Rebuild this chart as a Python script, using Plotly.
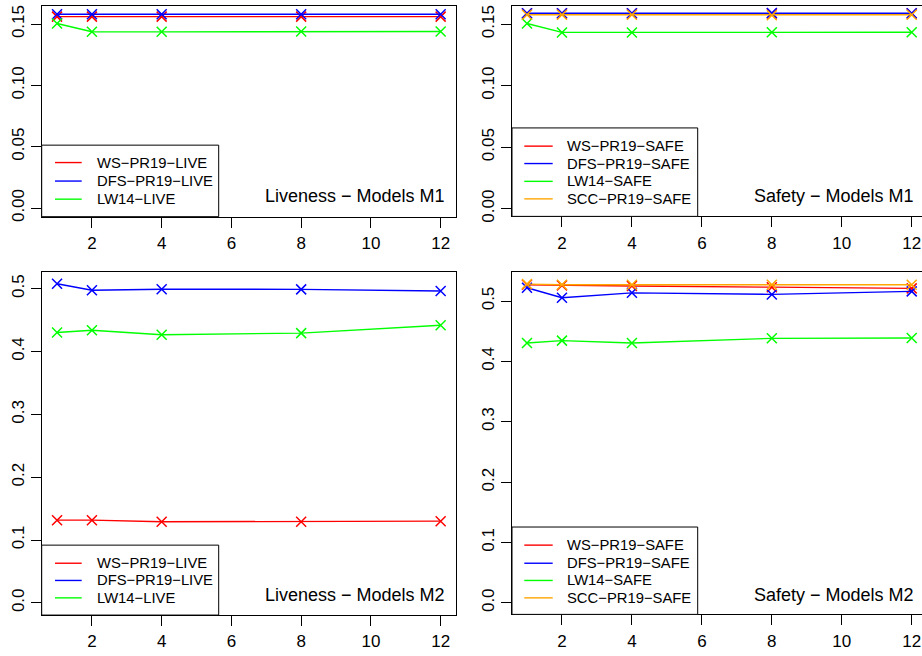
import plotly.graph_objects as go

# ---------------- data ----------------
x_vals = [1, 2, 4, 8, 12]
x_ticks = [2, 4, 6, 8, 10, 12]

live_m1_ws = [0.1561, 0.1561, 0.1561, 0.1561, 0.1561]
live_m1_dfs = [0.1580, 0.1580, 0.1580, 0.1580, 0.1580]
live_m1_lw14 = [0.1505, 0.1438, 0.1437, 0.1440, 0.1440]

safe_m1_ws = [0.1586, 0.1586, 0.1586, 0.1586, 0.1586]
safe_m1_dfs = [0.1589, 0.1589, 0.1589, 0.1590, 0.1589]
safe_m1_lw14 = [0.1505, 0.1433, 0.1433, 0.1434, 0.1434]
safe_m1_scc = [0.1577, 0.1577, 0.1576, 0.1572, 0.1576]

live_m2_ws = [0.1316, 0.1316, 0.1290, 0.1290, 0.1300]
live_m2_dfs = [0.5080, 0.4976, 0.4992, 0.4990, 0.4965]
live_m2_lw14 = [0.4304, 0.4340, 0.4268, 0.4293, 0.4419]

safe_m2_ws = [0.5270, 0.5260, 0.5250, 0.5230, 0.5210]
safe_m2_dfs = [0.5220, 0.5054, 0.5136, 0.5110, 0.5160]
safe_m2_lw14 = [0.4305, 0.4344, 0.4305, 0.4382, 0.4387]
safe_m2_scc = [0.5280, 0.5270, 0.5270, 0.5270, 0.5270]

live_names = ["WS\u2212PR19\u2212LIVE", "DFS\u2212PR19\u2212LIVE", "LW14\u2212LIVE"]
safe_names = ["WS\u2212PR19\u2212SAFE", "DFS\u2212PR19\u2212SAFE", "LW14\u2212SAFE", "SCC\u2212PR19\u2212SAFE"]
panel_titles = ["Liveness \u2212 Models M1", "Safety \u2212 Models M1",
                "Liveness \u2212 Models M2", "Safety \u2212 Models M2"]

colors = ["#FF0000", "#0000FF", "#00FF00", "#FFA500"]

# ---------------- layout geometry (pixels) ----------------
W, H = 922, 656
FONT = "Liberation Sans, Arial, Helvetica, sans-serif"

def px_x(p):
    return p / W

def px_y(p):
    return 1 - p / H

panels = [
    dict(xa="x", ya="y", xd=(41.7, 456.0), yd=(5.0, 218.0), xr=[0.56, 12.44], yr=[-0.0070, 0.1648],
         dt=0.05, fmt=".2f", series=[live_m1_ws, live_m1_dfs, live_m1_lw14], names=live_names,
         clip=False, title=panel_titles[0],
         leg=dict(box=(41.7, 145.7, 218.7, 218.0), rows=[163.3, 182.0, 200.3], line=(55.0, 81.7), text=95.0),
         title_pos=(446.7, 197.0)),
    dict(xa="x2", ya="y2", xd=(511.6, 922.0), yd=(5.0, 217.7), xr=[0.56, 12.294], yr=[-0.0062, 0.1648],
         dt=0.05, fmt=".2f", series=[safe_m1_ws, safe_m1_dfs, safe_m1_lw14, safe_m1_scc], names=safe_names,
         clip=True, title=panel_titles[1],
         leg=dict(box=(512.0, 128.3, 697.7, 217.7), rows=[146.7, 164.3, 182.3, 200.0], line=(524.3, 552.7), text=565.3),
         title_pos=(916.0, 197.3)),
    dict(xa="x3", ya="y3", xd=(41.7, 456.0), yd=(274.0, 620.7), xr=[0.56, 12.44], yr=[-0.0195, 0.5265],
         dt=0.1, fmt=".1f", series=[live_m2_ws, live_m2_dfs, live_m2_lw14], names=live_names,
         clip=False, title=panel_titles[2],
         leg=dict(box=(41.7, 550.0, 218.7, 620.7), rows=[568.3, 585.7, 603.3], line=(55.0, 81.7), text=95.0),
         title_pos=(446.7, 600.3)),
    dict(xa="x4", ya="y4", xd=(511.6, 922.0), yd=(274.0, 620.0), xr=[0.56, 12.294], yr=[-0.0192, 0.548],
         dt=0.1, fmt=".1f", series=[safe_m2_ws, safe_m2_dfs, safe_m2_lw14, safe_m2_scc], names=safe_names,
         clip=True, title=panel_titles[3],
         leg=dict(box=(512.0, 531.7, 697.7, 620.0), rows=[550.0, 568.3, 585.7, 603.3], line=(524.3, 552.7), text=565.3),
         title_pos=(916.0, 600.7)),
]

fig = go.Figure()
layout = dict(
    width=W, height=H,
    margin=dict(l=0, r=0, t=0, b=0),
    paper_bgcolor="white", plot_bgcolor="white",
    font=dict(family=FONT, size=17, color="black"),
    showlegend=False,
    annotations=[],
    shapes=[],
)

for i, p in enumerate(panels):
    suffix = "" if i == 0 else str(i + 1)
    for k, (ys, nm) in enumerate(zip(p["series"], p["names"])):
        fig.add_trace(go.Scatter(
            x=x_vals, y=ys, mode="lines+markers", name=nm,
            xaxis=p["xa"], yaxis=p["ya"], showlegend=False,
            line=dict(color=colors[k], width=1.4),
            marker=dict(symbol="x-thin", size=10, line=dict(color=colors[k], width=1.5)),
        ))
    xd = [px_x(p["xd"][0]), px_x(p["xd"][1])]
    yd = [px_y(p["yd"][1]), px_y(p["yd"][0])]
    layout["xaxis" + suffix] = dict(
        domain=xd, range=p["xr"], anchor=p["ya"],
        tickmode="array", tickvals=x_ticks, ticks="outside", ticklen=10, tickwidth=1,
        tickcolor="black", showline=True, linecolor="black", linewidth=1, mirror=True,
        showgrid=False, zeroline=False, tickfont=dict(size=17), ticklabelstandoff=1,
    )
    layout["yaxis" + suffix] = dict(
        domain=yd, range=p["yr"], anchor=p["xa"],
        tick0=0, dtick=p["dt"], tickformat=p["fmt"], ticks="outside", ticklen=10, tickwidth=1,
        tickcolor="black", showline=True, linecolor="black", linewidth=1,
        mirror=(not p["clip"]), showgrid=False, zeroline=False, tickangle=-90,
        tickfont=dict(size=17),
    )
    # legend key (box, line swatches, labels)
    lg = p["leg"]
    bx0, by0, bx1, by1 = lg["box"]
    layout["shapes"].append(dict(
        type="rect", xref="paper", yref="paper",
        x0=px_x(bx0), x1=px_x(bx1), y0=px_y(by1), y1=px_y(by0),
        line=dict(color="black", width=1), fillcolor="white", layer="above",
    ))
    for k, nm in enumerate(p["names"]):
        ry = lg["rows"][k]
        layout["shapes"].append(dict(
            type="line", xref="paper", yref="paper",
            x0=px_x(lg["line"][0]), x1=px_x(lg["line"][1]), y0=px_y(ry), y1=px_y(ry),
            line=dict(color=colors[k], width=1.4), layer="above",
        ))
        layout["annotations"].append(dict(
            text=nm, xref="paper", yref="paper", x=px_x(lg["text"]), y=px_y(ry),
            xanchor="left", yanchor="middle", showarrow=False,
            font=dict(family=FONT, size=14.8, color="black"),
        ))
    tx, ty = p["title_pos"]
    layout["annotations"].append(dict(
        text=p["title"], xref="paper", yref="paper",
        x=px_x(tx), y=px_y(ty), xanchor="right", yanchor="middle",
        showarrow=False, font=dict(family=FONT, size=18, color="black"),
    ))

fig.update_layout(**layout)
fig.write_html("out.html", config={"displayModeBar": False})

# remove the browser's default page margin so the figure sits at the window origin
with open("out.html", "r", encoding="utf-8") as fh:
    html = fh.read()
html = html.replace("<head>", "<head><style>html,body{margin:0;padding:0;overflow:hidden;}</style>", 1)
with open("out.html", "w", encoding="utf-8") as fh:
    fh.write(html)
